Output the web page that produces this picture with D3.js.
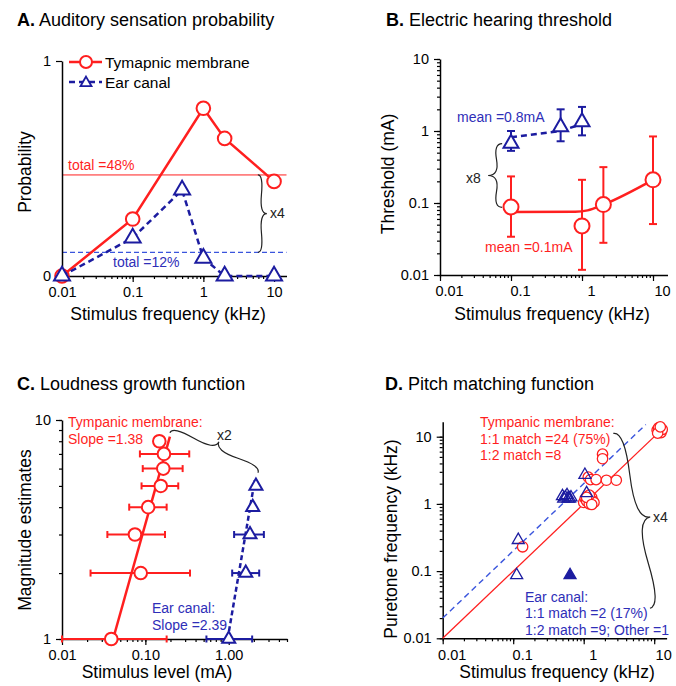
<!DOCTYPE html>
<html>
<head>
<meta charset="utf-8">
<script src="https://cdn.jsdelivr.net/npm/d3@7"></script>
<style>
  body { margin: 0; background: #fff; }
  text { font-family: "Liberation Sans", Arial, Helvetica, sans-serif; }
</style>
</head>
<body>
<svg id="fig" width="676" height="686"></svg>
<script>
// ---- A. auditory sensation probability
const freqA_TM = [0.01, 0.1, 1, 2, 10];
const probA_TM = [0, 0.265, 0.78, 0.64, 0.44];
const freqA_EC = [0.01, 0.1, 0.5, 1, 2, 10];
const probA_EC = [0, 0.177, 0.40, 0.083, 0, 0];
const totalA_TM = 0.47;
const totalA_EC = 0.11;

// ---- B. electric hearing threshold (mA)
const freqB_TM = [0.1, 1, 2, 10];
const thrB_TM = [0.088, 0.048, 0.095, 0.21];
const thrB_TM_lo = [0.034, 0.0118, 0.028, 0.051];
const thrB_TM_hi = [0.234, 0.21, 0.315, 0.84];
const fitB_TM = [[0.1, 0.075], [0.8, 0.0755], [1.2, 0.079], [2, 0.095], [10, 0.21]];
const freqB_EC = [0.1, 0.5, 1];
const thrB_EC = [0.67, 1.14, 1.34];
const thrB_EC_lo = [0.53, 0.72, 0.87];
const thrB_EC_hi = [1.0, 2.0, 2.16];
const fitB_EC = [[0.1, 0.82], [0.5, 1.0], [1, 1.25]];

// ---- C. loudness growth function
const magC_TM = [1, 2, 3, 4, 5, 6, 7, 8];
const levelC_TM = [0.039, 0.088, 0.075, 0.108, 0.153, 0.164, 0.167, 0.147];
const levelC_TM_lo = [0.01, 0.022, 0.035, 0.064, 0.090, 0.093, 0.086, null];
const levelC_TM_hi = [0.18, 0.343, 0.172, 0.18, 0.248, 0.28, 0.336, null];
const fitC_TM = [[0.041, 1], [0.197, 8.4]];
const magC_EC = [1, 2, 3, 4, 5];
const levelC_EC = [1.0, 1.6, 1.8, 1.94, 2.12];
const levelC_EC_lo = [0.54, 1.10, 1.16, null, null];
const levelC_EC_hi = [1.91, 2.32, 2.64, null, null];
const fitC_EC = [[0.97, 1], [2.05, 5.3]];

// ---- D. pitch matching (stimulus kHz, puretone kHz)
const pitchD_TM = [
  [0.136, 0.23],
  [1.0, 1.05], [1.05, 1.2], [1.1, 1.1], [1.15, 1.3], [1.2, 1.0], [1.25, 1.15],
  [1.3, 1.25], [1.35, 1.1], [1.4, 1.05], [1.2, 1.35], [1.1, 1.25], [1.3, 0.98],
  [1.16, 2.5], [1.25, 2.3], [1.5, 2.3], [2.1, 2.25], [2.9, 2.25],
  [1.85, 5.5], [1.85, 4.7],
  [11, 12.5], [11.5, 13.5], [12, 12], [12.5, 11.5], [13, 12.8], [11.2, 11.3], [12.2, 14]
];
const pitchD_EC = [
  [0.118, 0.29], [0.112, 0.087],
  [0.5, 1.3], [0.52, 1.2], [0.55, 1.25], [0.58, 1.35], [0.6, 1.2], [0.63, 1.2], [0.66, 1.25],
  [1.04, 2.7], [1.1, 1.44]
];
const pitchD_other = [[0.64, 0.087]];

const RED = "#ff1f1f";
const BLUE = "#1c1ca0";
const BLUE_TXT = "#2e2eb8";
const BLUE_LN = "#3a55dd";

const svg = d3.select("#fig");

function minorTicks(lo, hi) {
  const out = [];
  for (let e = Math.floor(Math.log10(lo)); e <= Math.ceil(Math.log10(hi)); e++) {
    for (let m = 1; m < 10; m++) {
      const v = +(m * Math.pow(10, e)).toPrecision(6);
      if (v >= lo * 0.999 && v <= hi * 1.001) out.push(v);
    }
  }
  return out;
}

function triangle(s) {
  const h = s * Math.sqrt(3) / 2;
  return `M0,${-2 * h / 3}L${s / 2},${h / 3}L${-s / 2},${h / 3}Z`;
}

function bracePath(x1, y1, x2, y2, w, q) {
  let dx = x1 - x2, dy = y1 - y2;
  const len = Math.sqrt(dx * dx + dy * dy);
  dx /= len; dy /= len;
  const qx1 = x1 + q * w * dy, qy1 = y1 - q * w * dx;
  const qx2 = (x1 - .25 * len * dx) + (1 - q) * w * dy, qy2 = (y1 - .25 * len * dy) - (1 - q) * w * dx;
  const tx = (x1 - .5 * len * dx) + w * dy, ty = (y1 - .5 * len * dy) - w * dx;
  const qx3 = x2 + q * w * dy, qy3 = y2 - q * w * dx;
  const qx4 = (x1 - .75 * len * dx) + (1 - q) * w * dy, qy4 = (y1 - .75 * len * dy) - (1 - q) * w * dx;
  return `M${x1},${y1}Q${qx1},${qy1} ${qx2},${qy2}T${tx},${ty}M${x2},${y2}Q${qx3},${qy3} ${qx4},${qy4}T${tx},${ty}`;
}

function brace(x1, y1, x2, y2, w) {
  svg.append("path").attr("d", bracePath(x1, y1, x2, y2, w, 0.6))
    .attr("fill", "none").attr("stroke", "#222").attr("stroke-width", 1.2);
}

function styleAxis(g, size) {
  g.attr("font-family", null).attr("font-size", null);
  g.selectAll("text").attr("font-size", size || 14.5).attr("fill", "#000");
  g.selectAll("line").attr("stroke", "#000").attr("stroke-width", 1.2);
  g.select(".domain").attr("stroke", "#000").attr("stroke-width", 1.5);
}

function xAxis(x, y0, majors, fmt, minors, dx) {
  const gm = svg.append("g").attr("transform", `translate(0,${y0})`)
    .call(d3.axisBottom(x).tickValues(minors).tickSize(3).tickSizeOuter(0).tickFormat(""));
  styleAxis(gm);
  const g = svg.append("g").attr("transform", `translate(0,${y0})`)
    .call(d3.axisBottom(x).tickValues(majors).tickSize(6).tickSizeOuter(0).tickPadding(5).tickFormat(fmt));
  g.select(".domain").remove();
  styleAxis(g);
  g.selectAll("text").attr("dx", dx || 0);
}

function yAxis(y, x0, majors, fmt, minors) {
  if (minors) {
    const gm = svg.append("g").attr("transform", `translate(${x0},0)`)
      .call(d3.axisLeft(y).tickValues(minors).tickSize(3).tickSizeOuter(0).tickFormat(""));
    styleAxis(gm);
  }
  const g = svg.append("g").attr("transform", `translate(${x0},0)`)
    .call(d3.axisLeft(y).tickValues(majors).tickSize(6).tickSizeOuter(0).tickPadding(5).tickFormat(fmt));
  if (minors) g.select(".domain").remove();
  styleAxis(g);
}

function title(x, y, letter, rest) {
  const t = svg.append("text").attr("x", x).attr("y", y).attr("font-size", 18);
  t.append("tspan").attr("font-weight", "bold").text(letter);
  t.append("tspan").text(" " + rest);
}

function xTitle(x, y, s) {
  svg.append("text").attr("x", x).attr("y", y).attr("text-anchor", "middle")
    .attr("font-size", 17.5).text(s);
}

function yTitle(x, y, s) {
  svg.append("text").attr("transform", `translate(${x},${y}) rotate(-90)`)
    .attr("text-anchor", "middle").attr("font-size", 17.5).text(s);
}

function label(x, y, s, color, size) {
  svg.append("text").attr("x", x).attr("y", y).attr("fill", color)
    .attr("font-size", size || 14).text(s);
}

function circles(data, x, y, r, sw, color) {
  svg.append("g").selectAll("circle").data(data).join("circle")
    .attr("cx", d => x(d[0])).attr("cy", d => y(d[1])).attr("r", r)
    .attr("fill", "#fff").attr("stroke", color).attr("stroke-width", sw);
}

function triangles(data, x, y, s, sw, color, fill) {
  svg.append("g").selectAll("path").data(data).join("path")
    .attr("transform", d => `translate(${x(d[0])},${y(d[1])})`)
    .attr("d", triangle(s)).attr("fill", fill || "#fff")
    .attr("stroke", color).attr("stroke-width", sw).attr("stroke-linejoin", "miter");
}

function line(data, x, y, color, sw, dash, curve) {
  svg.append("path").datum(data)
    .attr("d", d3.line().x(d => x(d[0])).y(d => y(d[1])).curve(curve || d3.curveLinear))
    .attr("fill", "none").attr("stroke", color).attr("stroke-width", sw)
    .attr("stroke-dasharray", dash || null);
}

const zip = (a, b) => a.map((v, i) => [v, b[i]]);

// ================= Panel A =================
const xA = d3.scaleLog().domain([0.01, 15]).range([62, 286.5]);
const yA = d3.scaleLinear().domain([0, 1]).range([276, 61]);

title(17, 26, "A.", "Auditory sensation probability");
svg.append("line").attr("x1", xA(0.01)).attr("x2", xA(15))
  .attr("y1", yA(totalA_TM)).attr("y2", yA(totalA_TM))
  .attr("stroke", RED).attr("stroke-width", 1);
svg.append("line").attr("x1", xA(0.01)).attr("x2", xA(15))
  .attr("y1", yA(totalA_EC)).attr("y2", yA(totalA_EC))
  .attr("stroke", BLUE_LN).attr("stroke-width", 1.2).attr("stroke-dasharray", "5,3");

xAxis(xA, yA(0), [0.01, 0.1, 1, 10], d3.format("~g"), minorTicks(0.01, 15), 0);
yAxis(yA, xA(0.01), [0, 1], d3.format("d"));

const dA_TM = zip(freqA_TM, probA_TM);
const dA_EC = zip(freqA_EC, probA_EC);
line(dA_TM, xA, yA, RED, 2.5);
circles(dA_TM, xA, yA, 6.8, 2, RED);
line(dA_EC, xA, yA, BLUE, 2.5, "6,4");
triangles(dA_EC, xA, yA, 16, 2, BLUE);

// legend
svg.append("line").attr("x1", 69).attr("x2", 102).attr("y1", 62).attr("y2", 62)
  .attr("stroke", RED).attr("stroke-width", 2.5);
svg.append("circle").attr("cx", 86).attr("cy", 62).attr("r", 6).attr("fill", "#fff")
  .attr("stroke", RED).attr("stroke-width", 2);
svg.append("text").attr("x", 105).attr("y", 67.5).attr("font-size", 15.5).text("Tymapnic membrane");
svg.append("line").attr("x1", 69).attr("x2", 102).attr("y1", 82).attr("y2", 82)
  .attr("stroke", BLUE).attr("stroke-width", 2.5).attr("stroke-dasharray", "6,4");
svg.append("path").attr("transform", "translate(86,83)").attr("d", triangle(11))
  .attr("fill", "#fff").attr("stroke", BLUE).attr("stroke-width", 1.8);
svg.append("text").attr("x", 105).attr("y", 87.5).attr("font-size", 15.5).text("Ear canal");

label(68, yA(totalA_TM) - 5, "total =48%", RED);
label(113, yA(totalA_EC) + 15, "total =12%", BLUE_TXT);
brace(xA(5.9), yA(totalA_EC), xA(5.9), yA(totalA_TM), 9);
label(270, 218, "x4", "#222");

xTitle(168, 320, "Stimulus frequency (kHz)");
yTitle(31, 172, "Probability");

// ================= Panel B =================
const xB = d3.scaleLog().domain([0.01, 16]).range([440, 440 + 71 * Math.log10(1600)]);
const yB = d3.scaleLog().domain([0.01, 10]).range([275, 59]);

title(386, 26, "B.", "Electric hearing threshold");
xAxis(xB, yB(0.01), [0.01, 0.1, 1, 10], d3.format("~g"), minorTicks(0.01, 16), 9);
yAxis(yB, xB(0.01), [0.01, 0.1, 1, 10], d3.format("~g"), minorTicks(0.01, 10));

function errV(xs, lo, hi, x, y, color, cap) {
  const g = svg.append("g").attr("stroke", color).attr("stroke-width", 2);
  xs.forEach((v, i) => {
    if (lo[i] == null) return;
    g.append("line").attr("x1", x(v)).attr("x2", x(v)).attr("y1", y(lo[i])).attr("y2", y(hi[i]));
    [lo[i], hi[i]].forEach(e => g.append("line").attr("x1", x(v) - cap).attr("x2", x(v) + cap)
      .attr("y1", y(e)).attr("y2", y(e)));
  });
}
function errH(ys, lo, hi, x, y, color, cap) {
  const g = svg.append("g").attr("stroke", color).attr("stroke-width", 2);
  ys.forEach((v, i) => {
    if (lo[i] == null) return;
    g.append("line").attr("y1", y(v)).attr("y2", y(v)).attr("x1", x(lo[i])).attr("x2", x(hi[i]));
    [lo[i], hi[i]].forEach(e => g.append("line").attr("y1", y(v) - cap).attr("y2", y(v) + cap)
      .attr("x1", x(e)).attr("x2", x(e)));
  });
}

errV(freqB_TM, thrB_TM_lo, thrB_TM_hi, xB, yB, RED, 4);
line(fitB_TM, xB, yB, RED, 2.5, null, d3.curveMonotoneX);
circles(zip(freqB_TM, thrB_TM), xB, yB, 7.5, 2, RED);
errV(freqB_EC, thrB_EC_lo, thrB_EC_hi, xB, yB, BLUE, 4);
line(fitB_EC, xB, yB, BLUE, 2.5, "6,4");
triangles(zip(freqB_EC, thrB_EC), xB, yB, 15, 2, BLUE);

label(457, 122, "mean =0.8mA", BLUE_TXT);
label(485, 252, "mean =0.1mA", RED);
brace(xB(0.075), yB(0.667), xB(0.075), yB(0.087), 14);
label(466, 183, "x8", "#222");

xTitle(552, 320, "Stimulus frequency (kHz)");
yTitle(394, 174, "Threshold (mA)");

// ================= Panel C =================
const xC = d3.scaleLog().domain([0.01, 5]).range([62, 287]);
const yC = d3.scaleLog().domain([1, 10]).range([639, 420]);

title(17, 390, "C.", "Loudness growth function");
xAxis(xC, yC(1), [0.01, 0.1, 1], d3.format(".2f"), minorTicks(0.01, 5), 0);
yAxis(yC, xC(0.01), [1, 10], d3.format("d"), minorTicks(1, 10));

errH(magC_TM, levelC_TM_lo, levelC_TM_hi, xC, yC, RED, 3.5);
line(fitC_TM, xC, yC, RED, 2.5);
circles(zip(levelC_TM, magC_TM), xC, yC, 6.3, 2, RED);
errH(magC_EC, levelC_EC_lo, levelC_EC_hi, xC, yC, BLUE, 3.5);
line(fitC_EC, xC, yC, BLUE, 2.5, "5,3");
triangles(zip(levelC_EC, magC_EC), xC, yC, 13, 2, BLUE);

label(68, 427, "Tympanic membrane:", RED);
label(68, 443.5, "Slope =1.38", RED);
label(152, 613, "Ear canal:", BLUE_TXT);
label(152, 630, "Slope =2.39", BLUE_TXT);
brace(xC(2.24), yC(5.75), xC(0.197), yC(8.75), 12);
label(217, 440, "x2", "#222");

xTitle(157, 678, "Stimulus level (mA)");
yTitle(31, 530, "Magnitude estimates");

// ================= Panel D =================
const xD = d3.scaleLog().domain([0.01, 15]).range([442.7, 442.7 + 70.5 * Math.log10(1500)]);
const yD = d3.scaleLog().domain([0.01, 16.7]).range([638.3, 638.3 - 67.2 * Math.log10(1670)]);

title(385, 390, "D.", "Pitch matching function");
xAxis(xD, yD(0.01), [0.01, 0.1, 1, 10], d3.format("~g"), minorTicks(0.01, 15), 9);
yAxis(yD, xD(0.01), [0.01, 0.1, 1, 10], d3.format("~g"), minorTicks(0.01, 16.7));

line([[0.01, 0.01], [11.5, 11.5]], xD, yD, RED, 1.3);
line([[0.01, 0.02], [7.6, 15.2]], xD, yD, BLUE_LN, 1.4, "6,4");
circles(pitchD_TM, xD, yD, 5.2, 1.3, RED);
triangles(pitchD_EC, xD, yD, 12, 1.3, BLUE, "none");
triangles(pitchD_other, xD, yD, 12, 1.3, BLUE, BLUE);

label(480, 427, "Tympanic membrane:", RED);
label(480, 443.5, "1:1 match =24 (75%)", RED);
label(480, 460, "1:2 match =8", RED);
label(525, 601.5, "Ear canal:", BLUE_TXT);
label(525, 618, "1:1 match =2 (17%)", BLUE_TXT);
label(525, 634.5, "1:2 match =9; Other =1", BLUE_TXT);
brace(xD(8.7), yD(0.028), xD(2.63), yD(11.2), 19);
label(653, 522, "x4", "#222");

xTitle(557, 678, "Stimulus frequency (kHz)");
yTitle(397, 539, "Puretone frequency (kHz)");
</script>
</body>
</html>
